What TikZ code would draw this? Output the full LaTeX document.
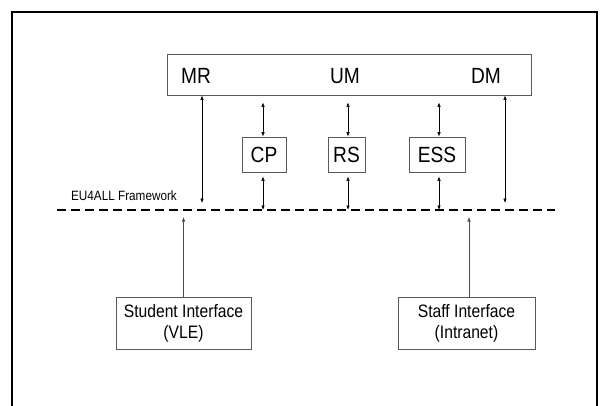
\documentclass[tikz,border=0pt]{standalone}
\usepackage{fontspec}
\setmainfont{Liberation Sans}
\newfontfamily\narrowsans[FakeStretch=0.87]{Liberation Sans}
\usetikzlibrary{arrows.meta}
\begin{document}
\begin{tikzpicture}[x=1pt,y=-1pt,
  box/.style={draw=black!65,line width=0.8pt,inner sep=0pt,anchor=center},
  bigtxt/.style={font=\narrowsans\fontsize{22}{26}\selectfont},
  iface/.style={box,align=center,font=\narrowsans\fontsize{18}{21}\selectfont},
  biarrow/.style={draw=black,line width=0.6pt,{Latex[length=4.5pt,width=3.5pt]}-{Latex[length=4.5pt,width=3.5pt]}},
  uparrow/.style={draw=black!70,line width=0.6pt,-{Latex[length=4.5pt,width=3.5pt]}},
  framework/.style={line width=2.6pt,dash pattern=on 9pt off 5pt}
]
\useasboundingbox (0,0) rectangle (604,406);
% outer frame (open at the bottom)
\draw[line width=2.2pt] (12,406) -- (12,12) -- (597,12) -- (597,406);

% top box
\node[box,minimum width=364pt,minimum height=41pt] (top) at (349,74.5) {};
\node[bigtxt] (mr) at (196,76) {MR};
\node[bigtxt] (um) at (345,76) {UM};
\node[bigtxt] (dm) at (486,76) {DM};

% middle boxes
\node[box,bigtxt,minimum width=44pt,minimum height=35pt] (cp) at (264,154.5) {CP};
\node[box,bigtxt,minimum width=37pt,minimum height=35pt] (rs) at (346.5,154.5) {RS};
\node[box,bigtxt,minimum width=56pt,minimum height=35pt] (ess) at (437,154.5) {ESS};

% framework line
\coordinate (fl) at (57,210);
\coordinate (fr) at (555,210);
\draw[framework] (fl) -- (fr);
\node[font=\narrowsans\fontsize{13.5}{16}\selectfont,anchor=center] (fwlabel) at (124,196) {EU4ALL Framework};

% interface boxes
\node[iface,minimum width=135pt,minimum height=52pt] (student) at (183.5,323) {Student Interface\\(VLE)};
\node[iface,minimum width=137pt,minimum height=52pt] (staff) at (466.5,323) {Staff Interface\\(Intranet)};

% arrow x positions
\coordinate (xmr) at (202,0);
\coordinate (xcp) at (263,0);
\coordinate (xrs) at (348,0);
\coordinate (xess) at (439,0);
\coordinate (xdm) at (505,0);

% arrows
\draw[biarrow,shorten >=7pt] (top.south -| xmr) -- (fl -| xmr);
\draw[biarrow,shorten >=7pt] (top.south -| xdm) -- (fl -| xdm);
\draw[biarrow,shorten <=7pt] (top.south -| xcp) -- (cp.north -| xcp);
\draw[biarrow,shorten <=7pt] (top.south -| xrs) -- (rs.north -| xrs);
\draw[biarrow,shorten <=7pt] (top.south -| xess) -- (ess.north -| xess);
\draw[biarrow,shorten <=4pt] (cp.south -| xcp) -- (fl -| xcp);
\draw[biarrow,shorten <=4pt] (rs.south -| xrs) -- (fl -| xrs);
\draw[biarrow,shorten <=4pt] (ess.south -| xess) -- (fl -| xess);
\draw[uparrow,shorten >=7pt] (student.north) -- (student.north |- fl);
\coordinate (xst) at (469,0);
\draw[uparrow,shorten >=7pt] (staff.north -| xst) -- (fl -| xst);
\end{tikzpicture}
\end{document}
